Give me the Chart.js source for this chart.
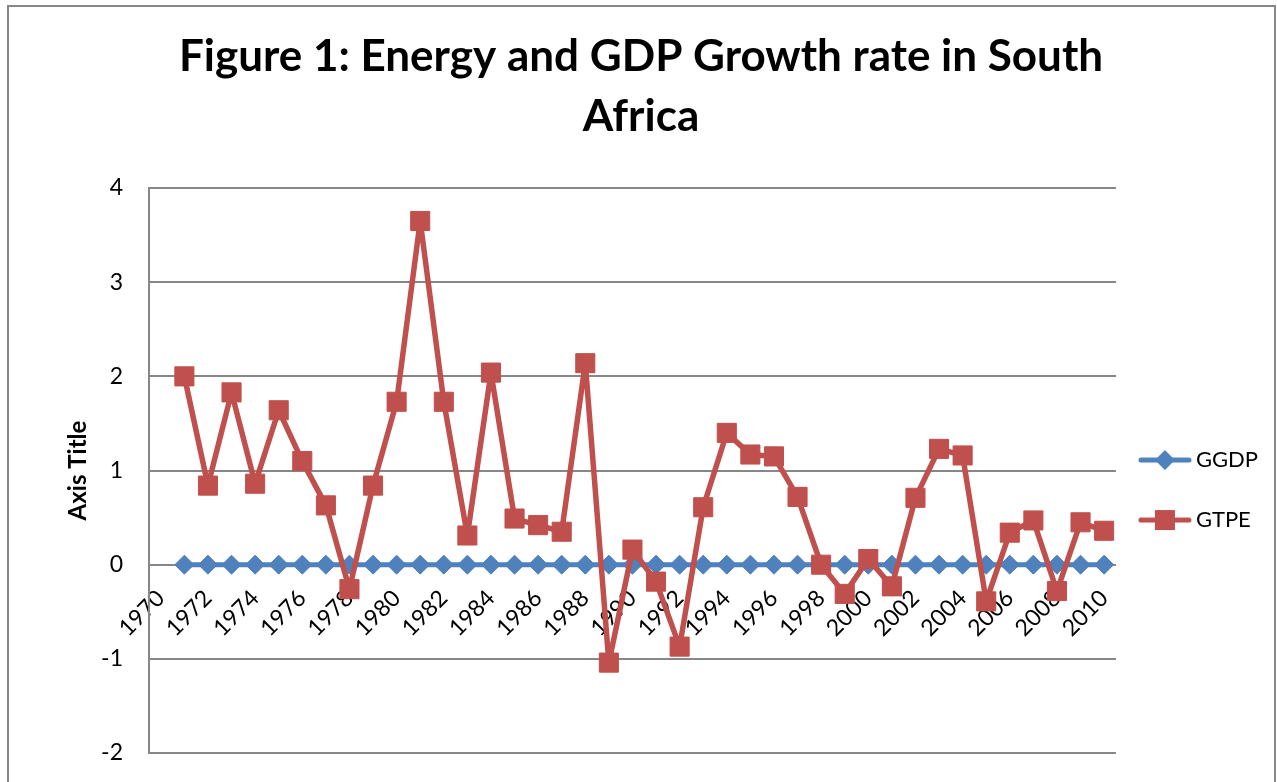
<!DOCTYPE html>
<html>
<head>
<meta charset="utf-8">
<script src="https://cdn.jsdelivr.net/npm/chart.js@4/dist/chart.umd.min.js"></script>
<style>
html,body{margin:0;padding:0;background:#fff;}
#wrap{width:1277px;height:782px;position:relative;}
</style>
</head>
<body>
<div id="wrap"><canvas id="c"></canvas></div>
<script>
const titleLines = ['Figure 1: Energy and GDP Growth rate in South', 'Africa'];
const years = ['1970','1971','1972','1973','1974','1975','1976','1977','1978','1979',
  '1980','1981','1982','1983','1984','1985','1986','1987','1988','1989',
  '1990','1991','1992','1993','1994','1995','1996','1997','1998','1999',
  '2000','2001','2002','2003','2004','2005','2006','2007','2008','2009','2010'];
const ggdp = [null,
  0,0,0,0,0,0,0,0,0,0,
  0,0,0,0,0,0,0,0,0,0,
  0,0,0,0,0,0,0,0,0,0,
  0,0,0,0,0,0,0,0,0,0];
const gtpe = [null,
  2.00, 0.84, 1.83, 0.86, 1.64, 1.10, 0.63, -0.26, 0.84, 1.73,
  3.65, 1.73, 0.31, 2.04, 0.49, 0.42, 0.35, 2.14, -1.04, 0.16,
  -0.18, -0.87, 0.61, 1.40, 1.17, 1.15, 0.72, 0.00, -0.31, 0.06,
  -0.23, 0.71, 1.23, 1.16, -0.39, 0.34, 0.47, -0.28, 0.45, 0.36];
const yMin = -2, yMax = 4, yStep = 1;

const BLUE = '#4F81BD', RED = '#C0504D', GRID = '#878787';
const FONT = 'Lato, "Open Sans", sans-serif';

function legendImg(color, style) {
  const c = document.createElement('canvas');
  c.width = 63; c.height = 24;
  const g = c.getContext('2d');
  g.strokeStyle = color; g.lineWidth = 5; g.lineCap = 'round';
  g.beginPath(); g.moveTo(3, 12); g.lineTo(51, 12); g.stroke();
  g.fillStyle = color;
  if (style === 'diamond') {
    g.beginPath(); g.moveTo(27, 2); g.lineTo(37, 12); g.lineTo(27, 22); g.lineTo(17, 12); g.closePath(); g.fill();
  } else {
    g.fillRect(17, 2, 20, 20);
  }
  return c;
}
const legendImgs = [legendImg(BLUE, 'diamond'), legendImg(RED, 'square')];

const framePlugin = {
  id: 'frame',
  beforeDraw(chart) {
    const ctx = chart.ctx;
    ctx.save();
    ctx.fillStyle = '#fff';
    ctx.fillRect(0, 0, chart.width, chart.height);
    ctx.strokeStyle = '#888';
    ctx.lineWidth = 2;
    ctx.strokeRect(8, 6, 1267, 800);
    ctx.restore();
  }
};

function noPad(s) { s.paddingTop = 0; s.paddingBottom = 0; s.paddingLeft = 0; s.paddingRight = 0; }

new Chart(document.getElementById('c'), {
  type: 'line',
  data: {
    labels: years,
    datasets: [
      {
        label: 'GGDP', data: ggdp, order: 1,
        borderColor: BLUE, backgroundColor: BLUE, borderWidth: 5,
        borderJoinStyle: 'round', borderCapStyle: 'round',
        pointStyle: 'rectRot', pointRadius: 9.5, pointBorderWidth: 1,
        pointBackgroundColor: BLUE, pointBorderColor: BLUE,
        tension: 0, spanGaps: false
      },
      {
        label: 'GTPE', data: gtpe, order: 0,
        borderColor: RED, backgroundColor: RED, borderWidth: 5.5,
        borderJoinStyle: 'round', borderCapStyle: 'round',
        pointStyle: 'rect', pointRadius: 13.5, pointBorderWidth: 1,
        pointBackgroundColor: RED, pointBorderColor: RED,
        tension: 0, spanGaps: false
      }
    ]
  },
  options: {
    responsive: true,
    maintainAspectRatio: false,
    animation: false,
    events: [],
    layout: { padding: { top: 0, left: 14, right: 9, bottom: 29 } },
    plugins: {
      tooltip: { enabled: false },
      title: {
        display: true,
        text: titleLines,
        color: '#000',
        font: { family: FONT, size: 44, weight: 'bold', lineHeight: 1.364 },
        padding: { top: 27, bottom: 41 }
      },
      legend: {
        position: 'right',
        fullSize: false,
        title: { display: true, text: ' ', font: { size: 10, lineHeight: 1.2 }, padding: { top: 27, bottom: 0 } },
        labels: {
          color: '#000',
          font: { family: FONT, size: 22 },
          usePointStyle: true,
          pointStyleWidth: 31,
          padding: 38,
          sort: (a, b) => a.datasetIndex - b.datasetIndex,
          generateLabels(chart) {
            const items = Chart.defaults.plugins.legend.labels.generateLabels(chart);
            items.forEach(it => { it.pointStyle = legendImgs[it.datasetIndex]; });
            return items;
          }
        }
      }
    },
    scales: {
      x: {
        type: 'category',
        offset: true,
        position: { y: 0 },
        afterFit: noPad,
        grid: { display: false, drawTicks: false },
        border: { display: true, color: GRID, width: 2 },
        ticks: {
          autoSkip: false,
          maxRotation: 45, minRotation: 45,
          padding: 20,
          color: '#000',
          font: { family: FONT, size: 23 },
          callback: function (value, index) {
            return index % 2 === 0 ? this.getLabelForValue(value) : '';
          }
        }
      },
      y: {
        min: yMin, max: yMax,
        afterFit: (s) => { noPad(s); s.width = 135; },
        grid: { color: GRID, lineWidth: 2, drawTicks: false },
        border: { display: true, color: GRID, width: 2 },
        ticks: {
          stepSize: yStep,
          padding: 26,
          color: '#000',
          font: { family: FONT, size: 23 }
        },
        title: {
          display: true,
          text: 'Axis Title',
          color: '#000',
          font: { family: FONT, size: 24, weight: 'bold' },
          padding: { top: 50, bottom: 0 }
        }
      }
    }
  },
  plugins: [framePlugin]
});
</script>
</body>
</html>
